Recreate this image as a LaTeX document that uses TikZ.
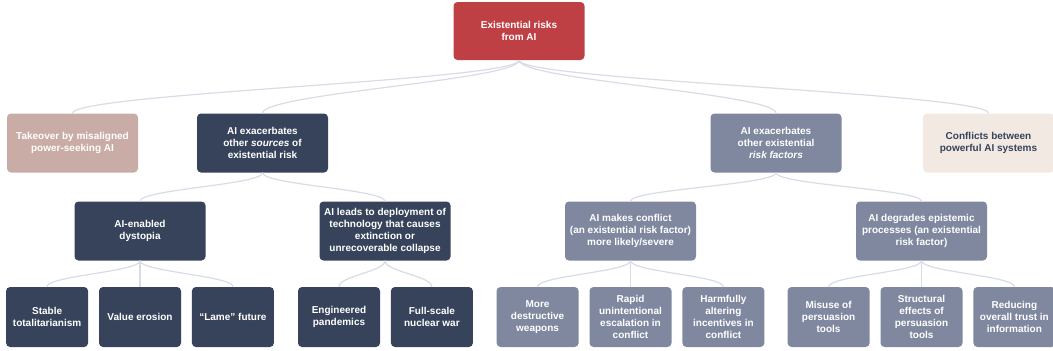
\documentclass[tikz,border=0pt]{standalone}
\usepackage{fontspec}
\setmainfont{Liberation Sans}
\usetikzlibrary{positioning}
\definecolor{riskred}{HTML}{BE4044}
\definecolor{navy}{HTML}{36435A}
\definecolor{slate}{HTML}{7F889F}
\definecolor{dustrose}{HTML}{C9ACA6}
\definecolor{cream}{HTML}{F2E9E3}
\definecolor{linkgrey}{HTML}{D9DBE6}

\begin{document}
\begin{tikzpicture}[x=1pt, y=-1pt, node distance = 10.5pt,
  box/.style={rectangle, rounded corners=4pt, align=center, inner sep=0pt, text=white,
    font=\fontsize{10}{12}\selectfont\bfseries},
  wide/.style={box, minimum width=131pt, minimum height=59pt},
  leaf/.style={box, minimum width=82pt, minimum height=60pt},
  link/.style={draw=linkgrey, line width=1.2pt}]
  \useasboundingbox (0,0) rectangle (1053,351);

  % nodes
  \node [wide, fill=riskred, minimum height=58pt] (root) at (519,31) {Existential risks\\from AI};

  \node [wide, fill=dustrose] (takeover) at (72.5,143) {Takeover by misaligned\\power-seeking AI};
  \node [wide, fill=navy] (sources) at (262.5,143) {AI exacerbates\\other \emph{sources} of\\existential risk};
  \node [wide, fill=slate] (factors) at (776,143) {AI exacerbates\\other existential\\\emph{risk factors}};
  \node [wide, fill=cream, text=navy] (conflicts) at (988.5,143) {Conflicts between\\powerful AI systems};

  \node [wide, fill=navy] (dystopia) at (140,231) {AI-enabled\\dystopia};
  \node [wide, fill=navy] (deploy) at (385,231) {AI leads to deployment of\\technology that causes\\extinction or\\unrecoverable collapse};
  \node [wide, fill=slate] (conflict) at (630.5,231) {AI makes conflict\\(an existential risk factor)\\more likely/severe};
  \node [wide, fill=slate] (epistemic) at (921.5,231) {AI degrades epistemic\\processes (an existential\\risk factor)};

  \node [leaf, fill=navy] (value) at (140,317) {Value erosion};
  \node [leaf, fill=navy][left = of value] (stable) {Stable\\totalitarianism};
  \node [leaf, fill=navy][right = of value] (lame) {``Lame'' future};

  \node [leaf, fill=navy] (pandemics) at (339,317) {Engineered\\pandemics};
  \node [leaf, fill=navy][right = of pandemics] (nuclear) {Full-scale\\nuclear war};

  \node [leaf, fill=slate] (rapid) at (630.5,317) {Rapid\\unintentional\\escalation in\\conflict};
  \node [leaf, fill=slate][left = of rapid] (weapons) {More\\destructive\\weapons};
  \node [leaf, fill=slate][right = of rapid] (incentives) {Harmfully\\altering\\incentives in\\conflict};

  \node [leaf, fill=slate] (structural) at (921.5,317) {Structural\\effects of\\persuasion\\tools};
  \node [leaf, fill=slate][left = of structural] (misuse) {Misuse of\\persuasion\\tools};
  \node [leaf, fill=slate][right = of structural] (trust) {Reducing\\overall trust in\\information};

  % edges
  \foreach \a/\b/\c in {root/takeover/20, root/sources/20, root/factors/20, root/conflicts/20,
      sources/dystopia/12, sources/deploy/12, factors/conflict/12, factors/epistemic/12,
      dystopia/stable/11, dystopia/value/11, dystopia/lame/11,
      deploy/pandemics/11, deploy/nuclear/11,
      conflict/weapons/11, conflict/rapid/11, conflict/incentives/11,
      epistemic/misuse/11, epistemic/structural/11, epistemic/trust/11}
    \draw [link] (\a.south) .. controls +(0,\c) and +(0,-\c) .. (\b.north);
\end{tikzpicture}
\end{document}
